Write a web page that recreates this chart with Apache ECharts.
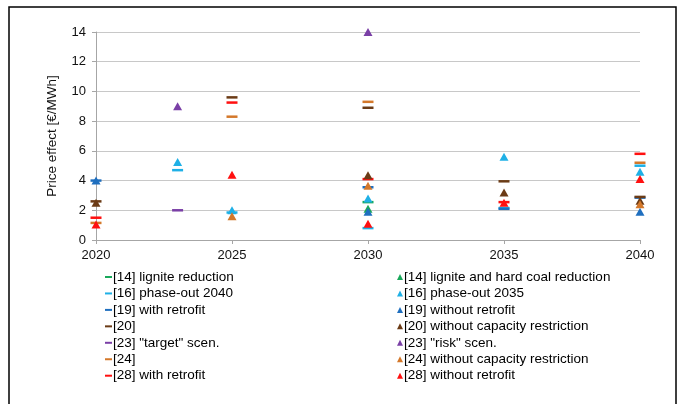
<!DOCTYPE html>
<html>
<head>
<meta charset="utf-8">
<script src="https://cdn.jsdelivr.net/npm/echarts@6/dist/echarts.min.js"></script>
<style>
html,body{margin:0;padding:0;background:#fff;}
#c{width:681px;height:404px;}
</style>
</head>
<body>
<div id="c"></div>
<script>
// ---- data ----
const xTicks = [2020, 2025, 2030, 2035, 2040];
const yTicks = [0, 2, 4, 6, 8, 10, 12, 14];

const s14dash = [[2030, 2.55]];
const s14tri  = [[2030, 2.1]];
const s16dash = [[2023, 4.7], [2025, 1.85], [2030, 0.8], [2035, 2.15], [2040, 5.0]];
const s16tri  = [[2023, 5.25], [2025, 2.0], [2030, 2.8], [2035, 5.6], [2040, 4.6]];
const s19dash = [[2020, 4.0], [2030, 3.55], [2035, 2.1], [2040, 2.85]];
const s19tri  = [[2020, 4.0], [2030, 1.9], [2040, 1.9]];
const s20dash = [[2020, 2.6], [2025, 9.6], [2030, 8.9], [2035, 3.95], [2040, 2.9]];
const s20tri  = [[2020, 2.5], [2030, 4.35], [2035, 3.2], [2040, 2.65]];
const s23dash = [[2023, 2.0]];
const s23tri  = [[2023, 9.0], [2030, 14.0]];
const s24dash = [[2020, 1.15], [2025, 8.3], [2030, 9.3], [2040, 5.2]];
const s24tri  = [[2025, 1.6], [2030, 3.65], [2040, 2.4]];
const s28dash = [[2020, 1.5], [2025, 9.25], [2030, 4.1], [2035, 2.55], [2040, 5.8]];
const s28tri  = [[2020, 1.05], [2025, 4.4], [2030, 1.1], [2035, 2.5], [2040, 4.1]];

const dashNames = ['[14] lignite reduction', '[16] phase-out 2040', '[19] with retrofit', '[20]', '[23] "target" scen.', '[24]', '[28] with retrofit'];
const triNames  = ['[14] lignite and hard coal reduction', '[16] phase-out 2035', '[19] without retrofit', '[20] without capacity restriction', '[23] "risk" scen.', '[24] without capacity restriction', '[28] without retrofit'];
const dashData = [s14dash, s16dash, s19dash, s20dash, s23dash, s24dash, s28dash];
const triData  = [s14tri, s16tri, s19tri, s20tri, s23tri, s24tri, s28tri];
const colors = ['#19a85a', '#1fb0e6', '#1f6fbf', '#6b3b16', '#7a3fa6', '#d4782a', '#ff1010'];

// ---- chart ----
const series = [];
for (let i = 0; i < 7; i++) {
  series.push({
    name: dashNames[i], type: 'scatter', data: dashData[i],
    symbol: 'rect', symbolSize: [11, 2.5],
    itemStyle: {color: colors[i], opacity: 1}, z: 2
  });
}
for (let i = 0; i < 7; i++) {
  series.push({
    name: triNames[i], type: 'scatter', data: triData[i],
    symbol: 'triangle', symbolSize: [9, 8],
    itemStyle: {color: colors[i], opacity: 1}, z: 3
  });
}

const font = 'Liberation Sans, Arial, sans-serif';
const chart = echarts.init(document.getElementById('c'), null, {renderer: 'canvas'});
chart.setOption({
  animation: false,
  backgroundColor: '#fff',
  textStyle: {fontFamily: font},
  graphic: [{
    type: 'rect', shape: {x: 9, y: 7, width: 667, height: 420},
    style: {fill: 'none', stroke: '#000', lineWidth: 1.5}, z: -1
  }],
  grid: {left: 96, right: 41, top: 32, bottom: 164},
  xAxis: {
    type: 'value', min: 2020, max: 2040, interval: 5,
    axisLine: {show: true, lineStyle: {color: '#a6a6a6'}},
    axisTick: {show: true, length: 4, lineStyle: {color: '#a6a6a6'}},
    splitLine: {show: false},
    axisLabel: {color: '#111', fontSize: 13, margin: 9, fontFamily: font,
      formatter: v => xTicks.indexOf(v) >= 0 ? String(v) : ''}
  },
  yAxis: {
    type: 'value', min: 0, max: 14, interval: 2,
    name: 'Price effect [€/MWh]', nameLocation: 'middle', nameGap: 37,
    nameTextStyle: {color: '#111', fontSize: 13.5, fontFamily: font},
    axisLine: {show: true, lineStyle: {color: '#a6a6a6'}},
    axisTick: {show: true, length: 4, lineStyle: {color: '#a6a6a6'}},
    splitLine: {show: true, lineStyle: {color: '#c8c8c8', width: 1}},
    axisLabel: {color: '#111', fontSize: 13, margin: 10, fontFamily: font,
      formatter: v => yTicks.indexOf(v) >= 0 ? String(v) : ''}
  },
  legend: [{
    data: dashNames, orient: 'vertical', left: 105, top: 269, padding: 0,
    icon: 'rect', itemWidth: 7, itemHeight: 2, itemGap: 0.45,
    textStyle: {fontSize: 13.5, color: '#000', lineHeight: 16, fontFamily: font, padding: [0, 0, 0, -4]},
    selectedMode: false
  }, {
    data: triNames, orient: 'vertical', left: 397, top: 269, padding: 0,
    icon: 'triangle', itemWidth: 6, itemHeight: 6, itemGap: 0.45,
    textStyle: {fontSize: 13.5, color: '#000', lineHeight: 16, fontFamily: font, padding: [0, 0, 0, -4]},
    selectedMode: false
  }],
  series: series
});
</script>
</body>
</html>
